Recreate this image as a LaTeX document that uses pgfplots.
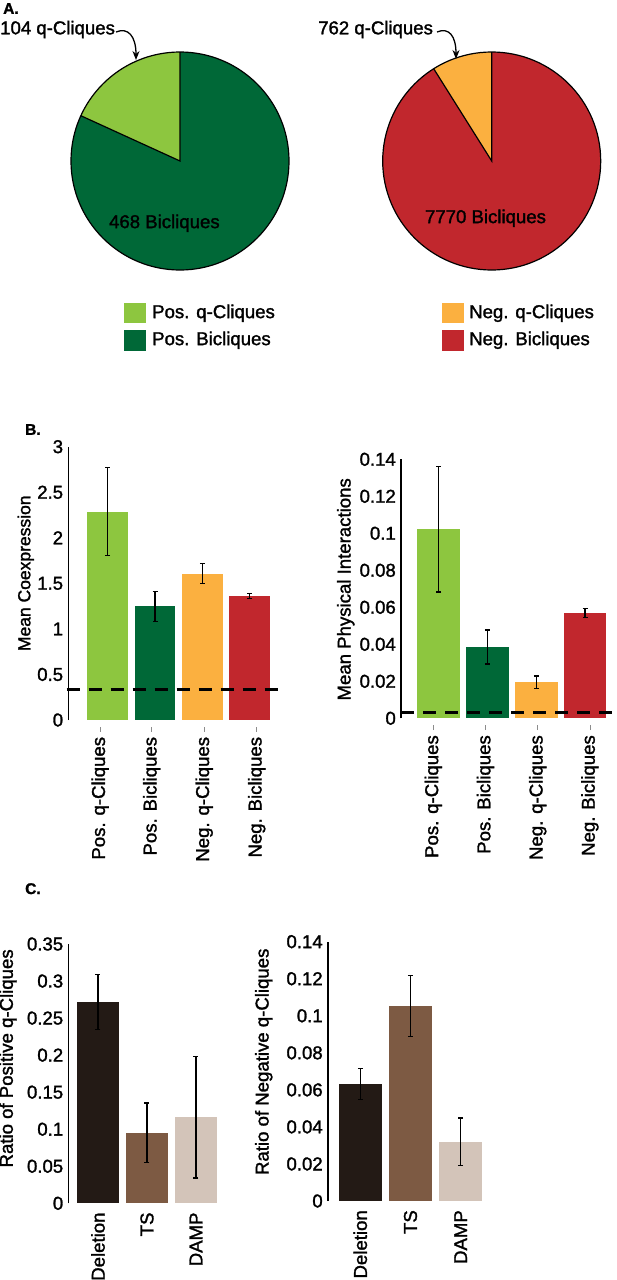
\documentclass[border=0pt]{standalone}
\usepackage{fontspec}
\setmainfont{Liberation Sans}[FakeBold=1.5]
\usepackage{pgfplots}
\pgfplotsset{compat=1.18}
\usetikzlibrary{arrows.meta}
\definecolor{lg}{HTML}{8DC63F}
\definecolor{dg}{HTML}{006837}
\definecolor{og}{HTML}{FBB040}
\definecolor{rd}{HTML}{C1272D}
\definecolor{c1}{HTML}{231A15}
\definecolor{c2}{HTML}{7D5A43}
\definecolor{c3}{HTML}{D3C4B9}
\newcommand\tfont{\fontsize{18.6}{21}\selectfont}
\newcommand\lfont{\fontsize{15.5}{18}\selectfont\bfseries}
\pgfplotsset{
  barax/.style={
    scale only axis,
    axis y line*=left,
    axis x line*=bottom,
    x axis line style={draw=none},
    y axis line style={line width=1.3pt, black, -},
    ymin=0,
    clip=false,
    tick align=outside,
    major tick length=5pt,
    ytick style={draw=none},
    xtick style={draw=black!45, line width=0.7pt, yshift=-6.7pt},
    scaled y ticks=false,
    /pgf/number format/assume math mode=true,
    /pgf/number format/fixed,
    /pgf/number format/precision=3,
    yticklabel style={inner sep=0pt, font=\tfont},
    xticklabel style={rotate=90, anchor=east, inner sep=0pt, font=\tfont},
  },
  errb/.style={error bars/.cd, y dir=both, y explicit,
    error bar style={line width=1.3pt, black},
    error mark options={rotate=90, mark size=2.5pt, line width=1.3pt, black}},
}
\begin{document}
\begin{tikzpicture}[font=\tfont]
\path[use as bounding box] (0,0) rectangle (616pt,-1280pt);
\pgfmathsetmacro\angPos{90+104/(104+468)*360}
\pgfmathsetmacro\angNeg{90+762/(762+7770)*360}

% ---------- Panel A ----------
\node[anchor=north west, inner sep=0pt, font=\lfont] at (3pt,-3pt) {A.};

\begin{axis}[at={(180pt,-161pt)}, anchor=center, hide axis, scale only axis,
  width=218pt, height=218pt, xmin=-1, xmax=1, ymin=-1, ymax=1, clip=false]
  \fill[dg] (axis cs:0,0) circle[radius=109pt];
  \fill[lg] (axis cs:0,0) -- (axis cs:0,1) arc[start angle=90, end angle=\angPos, radius=109pt] -- cycle;
  \draw[line width=1.2pt] (axis cs:0,0) circle[radius=109pt];
  \draw[line width=1.2pt] (axis cs:0,1) -- (axis cs:0,0) -- (axis cs:{cos(\angPos)},{sin(\angPos)});
\end{axis}
\begin{axis}[at={(491.7pt,-161pt)}, anchor=center, hide axis, scale only axis,
  width=218pt, height=218pt, xmin=-1, xmax=1, ymin=-1, ymax=1, clip=false]
  \fill[rd] (axis cs:0,0) circle[radius=109pt];
  \fill[og] (axis cs:0,0) -- (axis cs:0,1) arc[start angle=90, end angle=\angNeg, radius=109pt] -- cycle;
  \draw[line width=1.2pt] (axis cs:0,0) circle[radius=109pt];
  \draw[line width=1.2pt] (axis cs:0,1) -- (axis cs:0,0) -- (axis cs:{cos(\angNeg)},{sin(\angNeg)});
\end{axis}

\node[anchor=base west, inner sep=0pt] at (0pt,-34.3pt) {104 q-Cliques};
\node[anchor=base west, inner sep=0pt] at (318pt,-34.3pt) {762 q-Cliques};
\draw[line width=1.3pt, -{Stealth[length=9pt, width=7pt]}] (116pt,-32pt) .. controls (128pt,-27pt) and (136pt,-36pt) .. (136pt,-60pt);
\draw[line width=1.3pt, -{Stealth[length=9pt, width=7pt]}] (437pt,-32pt) .. controls (449pt,-27pt) and (456pt,-36pt) .. (456pt,-59pt);
\node at (164.4pt,-223.3pt) {468 Bicliques};
\node at (485.5pt,-218.3pt) {7770 Bicliques};

% legend
\fill[lg] (124pt,-303.3pt) rectangle (146pt,-323.3pt);
\fill[dg] (124pt,-330pt) rectangle (146pt,-350.7pt);
\node[anchor=west, inner sep=0pt] at (152pt,-313.3pt) {Pos. q-Cliques};
\node[anchor=west, inner sep=0pt] at (152pt,-340.3pt) {Pos. Bicliques};
\fill[og] (442.4pt,-303.3pt) rectangle (464.2pt,-323.3pt);
\fill[rd] (442.4pt,-330pt) rectangle (464.2pt,-350.7pt);
\node[anchor=west, inner sep=0pt] at (469pt,-313.3pt) {Neg. q-Cliques};
\node[anchor=west, inner sep=0pt] at (469pt,-340.3pt) {Neg. Bicliques};

% ---------- Panel B ----------
\node[anchor=north west, inner sep=0pt, font=\lfont] at (25pt,-424pt) {B.};

\begin{axis}[barax, at={(68.3pt,-720pt)}, anchor=south west,
  width=214.7pt, height=273.3pt, xmin=-0.833, xmax=3.706, ymax=3,
  ytick={0,0.5,1,1.5,2,2.5,3},
  xtick={-0.16,0.93,2.04,3.15},
  xticklabels={Pos. q-Cliques,Pos. Bicliques,Neg. q-Cliques,Neg. Bicliques},
  xticklabel shift=11.7pt,
  every axis y label/.style={at={(axis description cs:-0.198,0.537)}, rotate=90, anchor=center, font=\fontsize{17.5}{20}\selectfont},
  ylabel={Mean Coexpression}]
  \addplot[ybar, bar width=40.7pt, bar shift=0pt, fill=lg, draw=none, errb] coordinates {(0,2.287) +- (0,0.485)};
  \addplot[ybar, bar width=40.7pt, bar shift=0pt, fill=dg, draw=none, errb] coordinates {(1,1.248) +- (0,0.165)};
  \addplot[ybar, bar width=40.7pt, bar shift=0pt, fill=og, draw=none, errb] coordinates {(2,1.606) +- (0,0.11)};
  \addplot[ybar, bar width=40.7pt, bar shift=0pt, fill=rd, draw=none, errb] coordinates {(3,1.358) +- (0,0.027)};
  \addplot[black, line width=2.6pt, dash pattern=on 13pt off 9pt] coordinates {(-0.87,0.337) (3.706,0.337)};
\end{axis}

\begin{axis}[barax, at={(401pt,-718.3pt)}, anchor=south west,
  width=215pt, height=259pt, xmin=-0.773, xmax=3.635, ymax=0.14,
  ytick={0,0.02,0.04,0.06,0.08,0.1,0.12,0.14},
  xtick={-0.11,0.96,2.03,3.1},
  xticklabels={Pos. q-Cliques,Pos. Bicliques,Neg. q-Cliques,Neg. Bicliques},
  xticklabel shift=11.7pt,
  every axis y label/.style={at={(axis description cs:-0.257,0.498)}, rotate=90, anchor=center, font=\tfont},
  ylabel={Mean Physical Interactions}]
  \addplot[ybar, bar width=42.5pt, bar shift=0pt, fill=lg, draw=none, errb] coordinates {(0,0.1023) +- (0,0.034)};
  \addplot[ybar, bar width=42.5pt, bar shift=0pt, fill=dg, draw=none, errb] coordinates {(1,0.0385) +- (0,0.0092)};
  \addplot[ybar, bar width=42.5pt, bar shift=0pt, fill=og, draw=none, errb] coordinates {(2,0.0195) +- (0,0.0033)};
  \addplot[ybar, bar width=42.5pt, bar shift=0pt, fill=rd, draw=none, errb] coordinates {(3,0.0569) +- (0,0.0025)};
  \addplot[black, line width=2.6pt, dash pattern=on 13pt off 9pt] coordinates {(-0.773,0.0032) (3.635,0.0032)};
\end{axis}

% ---------- Panel C ----------
\node[anchor=north west, inner sep=0pt, font=\lfont] at (25pt,-883pt) {C.};

\begin{axis}[barax, at={(68.4pt,-1203.3pt)}, anchor=south west,
  width=161.9pt, height=259.3pt, xmin=-0.604, xmax=2.7, ymax=0.35,
  ytick={0,0.05,0.1,0.15,0.2,0.25,0.3,0.35},
  xtick={0,1,2}, xticklabels={Deletion,TS,DAMP},
  xtick style={draw=none}, xticklabel shift=4pt,
  every axis y label/.style={at={(axis description cs:-0.373,0.559)}, rotate=90, anchor=center, font=\tfont},
  ylabel={Ratio of Positive q-Cliques}]
  \addplot[ybar, bar width=42.5pt, bar shift=0pt, fill=c1, draw=none, errb] coordinates {(0,0.272) +- (0,0.037)};
  \addplot[ybar, bar width=42.5pt, bar shift=0pt, fill=c2, draw=none, errb] coordinates {(1,0.0953) +- (0,0.04)};
  \addplot[ybar, bar width=42.5pt, bar shift=0pt, fill=c3, draw=none, errb] coordinates {(2,0.116) +- (0,0.082)};
\end{axis}

\begin{axis}[barax, at={(327.9pt,-1201pt)}, anchor=south west,
  width=167.9pt, height=259.3pt, xmin=-0.645, xmax=2.7, ymax=0.14,
  ytick={0,0.02,0.04,0.06,0.08,0.1,0.12,0.14},
  xtick={0,1,2}, xticklabels={Deletion,TS,DAMP},
  xtick style={draw=none}, xticklabel shift=4pt,
  every axis y label/.style={at={(axis description cs:-0.382,0.537)}, rotate=90, anchor=center, font=\tfont},
  ylabel={Ratio of Negative q-Cliques}]
  \addplot[ybar, bar width=43pt, bar shift=0pt, fill=c1, draw=none, errb] coordinates {(0,0.0633) +- (0,0.0084)};
  \addplot[ybar, bar width=43pt, bar shift=0pt, fill=c2, draw=none, errb] coordinates {(1,0.1053) +- (0,0.0164)};
  \addplot[ybar, bar width=43pt, bar shift=0pt, fill=c3, draw=none, errb] coordinates {(2,0.032) +- (0,0.0129)};
\end{axis}
\end{tikzpicture}
\end{document}
